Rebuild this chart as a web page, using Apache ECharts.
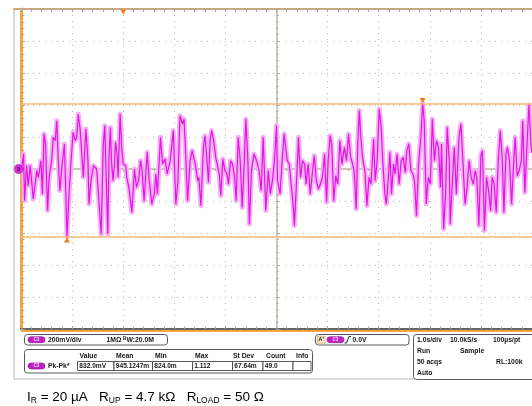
<!DOCTYPE html>
<html>
<head>
<meta charset="UTF-8">
<title>C3 Pk-Pk noise capture</title>
<script src="https://cdn.jsdelivr.net/npm/echarts@6.0.0/dist/echarts.min.js"></script>
<style>
  html, body { margin: 0; padding: 0; background: #fff; }
  #main { width: 532px; height: 406px; }
</style>
</head>
<body>
<div id="main"></div>
<script>
// C3 trace: [time s (1.0 s/div), level mV (200 mV/div)]
const traceSeg1 = [[0.01,0],[0.05,94],[0.07,-198],[0.11,21],[0.14,-104],[0.18,21],[0.24,-187],[0.31,-10],[0.34,-52],[0.39,52],[0.42,-156],[0.45,219],[0.48,156],[0.52,-260],[0.55,-52],[0.60,52],[0.63,198],[0.67,177],[0.70,302],[0.73,52],[0.76,-135],[0.80,10],[0.85,156],[0.87,-73],[0.90,-422],[0.94,-156],[0.98,52],[1.02,229],[1.06,177],[1.09,198],[1.12,344],[1.16,240],[1.19,94],[1.22,-52],[1.27,250],[1.31,52],[1.33,-219],[1.37,-73],[1.42,21],[1.45,31],[1.48,0],[1.51,10],[1.57,-406],[1.61,150]];
const traceSeg2 = [[1.64,271],[1.68,-198],[1.70,-406],[1.72,52],[1.75,260],[1.77,52],[1.80,-73],[1.83,31],[1.85,167],[1.88,94],[1.90,-52],[1.94,344],[1.97,135],[2.00,31],[2.05,21],[2.07,-52],[2.11,-115],[2.17,-271],[2.22,0],[2.26,-115],[2.30,-73],[2.34,52],[2.37,-10],[2.41,-198],[2.47,104],[2.51,-73],[2.56,-219],[2.61,-156],[2.64,-31],[2.67,-156],[2.73,198],[2.77,31],[2.82,62],[2.86,-31],[2.92,52],[2.98,240],[3.03,-219],[3.07,-83],[3.11,333],[3.16,281],[3.19,312],[3.22,115],[3.26,-198],[3.31,52],[3.35,115],[3.41,31]];
const traceSeg3 = [[3.46,-73],[3.48,-52],[3.52,-229],[3.57,135],[3.60,208],[3.64,52],[3.67,-83],[3.70,177],[3.73,240],[3.77,177],[3.81,73],[3.84,73],[3.88,-31],[3.91,-167],[3.95,62],[3.99,-10],[4.03,-31],[4.06,-94],[4.10,52],[4.14,31],[4.18,-52],[4.21,-198],[4.25,198],[4.29,52],[4.33,-240],[4.37,52],[4.40,312],[4.44,52],[4.47,-344],[4.51,-10],[4.56,94],[4.61,52],[4.66,-10],[4.70,-135],[4.74,198],[4.79,-260],[4.84,-10],[4.88,-156],[4.92,-73],[4.96,52],[5.00,271],[5.02,-73],[5.07,-156],[5.11,52],[5.15,219]];
const traceSeg4 = [[5.21,52],[5.25,31],[5.28,-73],[5.33,-240],[5.35,-354],[5.39,-94],[5.43,198],[5.47,-52],[5.51,52],[5.55,31],[5.58,-94],[5.62,31],[5.66,-156],[5.70,-31],[5.74,83],[5.78,-73],[5.82,-125],[5.86,-94],[5.90,-52],[5.94,94],[5.98,-208],[6.01,52],[6.05,208],[6.08,156],[6.12,-198],[6.16,-42],[6.20,-94],[6.24,177],[6.28,31],[6.33,135],[6.37,52],[6.41,219],[6.45,73],[6.48,42],[6.52,-10],[6.56,-250],[6.59,156],[6.62,365],[6.65,198],[6.69,52],[6.73,-10],[6.77,-229],[6.81,-52],[6.85,-94],[6.90,187],[6.93,-73]];
const traceSeg5 = [[6.97,52],[7.01,375],[7.05,260],[7.08,52],[7.12,-156],[7.15,-219],[7.19,-52],[7.22,104],[7.25,-156],[7.29,31],[7.32,-31],[7.36,94],[7.40,-94],[7.44,52],[7.48,73],[7.52,-21],[7.55,115],[7.59,156],[7.63,-10],[7.67,-31],[7.70,-73],[7.74,-292],[7.78,31],[7.83,219],[7.86,410],[7.89,302],[7.93,-219],[7.97,-52],[8.01,-94],[8.05,312],[8.09,52],[8.13,177],[8.17,135],[8.21,-115],[8.23,156],[8.27,-375],[8.31,-156],[8.34,260],[8.38,52],[8.40,-344],[8.44,-94],[8.48,135],[8.52,-156]];
const traceSeg6 = [[8.57,198],[8.61,281],[8.65,31],[8.69,-219],[8.73,-115],[8.77,52],[8.81,-52],[8.85,-94],[8.89,-10],[8.92,-52],[8.96,-354],[9.00,83],[9.03,115],[9.07,-385],[9.11,-52],[9.15,-135],[9.19,-260],[9.22,-52],[9.26,-94],[9.30,-271],[9.34,52],[9.38,240],[9.42,52],[9.45,-271],[9.49,94],[9.52,135],[9.56,52],[9.60,-219],[9.64,31],[9.67,198],[9.71,-42],[9.75,-10],[9.79,52],[9.82,302],[9.86,-146],[9.90,135],[9.94,400],[9.98,156],[10.0,100]];

// cursors on the max / min of the record, trigger position marker
const cursorLevels = [410, -422];
const cursorMarks = [[7.86, 410], [0.90, -422]];
const triggerTime = 2.0;

// readouts
const chanLine = ['200mV/div', '1MΩ', 'W:20.0M'];
const measHead = ['Value', 'Mean', 'Min', 'Max', 'St Dev', 'Count', 'Info'];
const measVal = ['832.0mV', '945.1247m', '824.0m', '1.112', '67.64m', '49.0', ''];
const trigLevel = '0.0V';
const acqRows = [['1.0s/div', '10.0kS/s', '100µs/pt'], ['Run', 'Sample'], ['50 acqs', 'RL:100k'], ['Auto']];

const trace = [].concat(traceSeg1, traceSeg2, traceSeg3, traceSeg4, traceSeg5, traceSeg6);

const FONT = '"Liberation Sans", Arial, sans-serif';
const tri = '#f07a18';

function txt(x, y, s, size, extra) {
  return Object.assign({
    type: 'text', x: x, y: y, z: 20,
    style: { text: s, font: 'bold ' + size + 'px ' + FONT, fill: '#161616',
             textAlign: 'left', textVerticalAlign: 'middle' }
  }, extra || {});
}
function box(x, y, w, h, r, stroke, fill) {
  return { type: 'rect', z: 15, shape: { x: x, y: y, width: w, height: h, r: r },
           style: { fill: fill || '#fff', stroke: stroke || '#5a5a5a', lineWidth: 1 } };
}
function pill(x, y) {
  return [
    { type: 'rect', z: 18, shape: { x: x, y: y, width: 17, height: 6, r: 3 },
      style: { fill: '#c21ec8', stroke: '#8e108e', lineWidth: 0.6 } },
    { type: 'text', z: 19, x: x + 8.5, y: y + 3,
      style: { text: 'C3', font: 'bold 4.5px ' + FONT, fill: '#f8e0f8', textAlign: 'center', textVerticalAlign: 'middle' } }
  ];
}
function line(x1, y1, x2, y2, color, w) {
  return { type: 'line', z: 16, shape: { x1: x1, y1: y1, x2: x2, y2: y2 },
           style: { stroke: color, lineWidth: w || 1 } };
}

let graphics = [];
// screen frame
graphics.push(line(14, 8.5, 14, 379, '#b4b4b4', 1));
graphics.push(line(13.5, 9, 22, 9, '#c8a882', 2));
graphics.push(line(14, 379, 413, 379, '#b4b4b4', 1));
graphics.push(line(21, 331, 532, 331, '#f5a540', 2));

// channel box
graphics.push(box(24.5, 334.5, 143, 10.5, 3));
graphics = graphics.concat(pill(28, 336.7));
graphics.push(txt(48, 339.8, chanLine[0], 6.8));
graphics.push(txt(106.5, 339.8, chanLine[1], 6.8));
graphics.push(txt(123, 338.3, 'B', 4.5));
graphics.push(txt(126.5, 339.8, chanLine[2], 6.8));

// measurement box
graphics.push(box(24.5, 349.5, 288, 23.5, 3));
const headX = [79.5, 116, 155, 195, 233, 266, 296];
measHead.forEach(function (h, i) { graphics.push(txt(headX[i], 356, h, 6.8)); });
graphics = graphics.concat(pill(28, 363));
graphics.push(txt(48, 366, 'Pk-Pk*', 6.8));
const cellEdges = [77.5, 114, 152.5, 192.5, 232.5, 263, 293, 311];
for (let i = 0; i < cellEdges.length - 1; i++) {
  graphics.push({ type: 'rect', z: 16,
    shape: { x: cellEdges[i], y: 361.5, width: cellEdges[i + 1] - cellEdges[i], height: 9 },
    style: { fill: '#fff', stroke: '#333', lineWidth: 0.8 } });
  if (measVal[i]) graphics.push(txt(cellEdges[i] + 1.8, 366.2, measVal[i], 6.6));
}

// trigger box
graphics.push(box(315.5, 334.5, 93.5, 10.5, 3));
graphics.push({ type: 'rect', z: 17, shape: { x: 317.5, y: 336.2, width: 7.5, height: 7 },
  style: { fill: '#fbe9c8', stroke: '#c9a060', lineWidth: 0.7 } });
graphics.push(txt(318.5, 339.8, "A'", 5.5));
graphics = graphics.concat(pill(327, 336.7));
graphics.push({ type: 'polyline', z: 18, shape: { points: [[344.5, 343], [346.5, 343], [349, 336.5], [351, 336.5]] },
  style: { stroke: '#222', lineWidth: 1, fill: null } });
graphics.push(txt(352.5, 339.8, trigLevel, 6.8));

// acquisition box
graphics.push(box(413.5, 334.5, 130, 45, 3));
const acqX = [[417, 450, 493], [417, 460], [417, 496], [417]];
const acqY = [340, 351, 362, 373];
acqRows.forEach(function (row, r) {
  row.forEach(function (s, c) { graphics.push(txt(acqX[r][c], acqY[r], s, 6.8)); });
});

// test condition caption
graphics.push({ type: 'text', z: 20, x: 27, y: 397,
  style: {
    text: '{m|I}{s|R}{m| = 20 µA   R}{s|UP}{m| = 4.7 kΩ   R}{s|LOAD}{m| = 50 Ω}',
    textVerticalAlign: 'middle', textAlign: 'left',
    rich: {
      m: { fontFamily: FONT, fontSize: 13.5, color: '#1f2d55', lineHeight: 16, verticalAlign: 'middle' },
      s: { fontFamily: FONT, fontSize: 8.5, color: '#1f2d55', lineHeight: 6, verticalAlign: 'bottom' }
    }
  } });

const dotted = { color: '#b9b9b9', width: 1, type: [1, 5] };
const tickGray = { color: '#a8a8a8', width: 1 };
const centerGray = '#bdb8ab';

const option = {
  animation: false,
  backgroundColor: '#fff',
  grid: { left: 21, right: 0, top: 9, bottom: 77, show: false },
  xAxis: [
    { type: 'value', min: 0, max: 10, interval: 1, position: 'bottom',
      axisLine: { show: true, onZero: false, lineStyle: { color: '#666', width: 2 } },
      axisTick: { show: true, inside: true, length: 3, lineStyle: tickGray },
      minorTick: { show: true, splitNumber: 5, length: 2.5, lineStyle: tickGray },
      axisLabel: { show: false },
      splitLine: { show: true, lineStyle: dotted } },
    { type: 'value', min: -5, max: 5, interval: 1, position: 'top',
      axisLine: { show: true, onZero: true, onZeroAxisIndex: 0, lineStyle: { color: '#cbc7bb', width: 2 } },
      axisTick: { show: true, inside: true, length: 3, lineStyle: { color: '#aaa598' } },
      minorTick: { show: true, splitNumber: 5, length: 2, lineStyle: { color: '#b3aea2' } },
      axisLabel: { show: false }, splitLine: { show: false } },
    { type: 'value', min: 0, max: 10, interval: 1, position: 'top',
      axisLine: { show: true, onZero: false, lineStyle: { color: '#c8a882', width: 2 } },
      axisTick: { show: true, inside: true, length: 3, lineStyle: tickGray },
      minorTick: { show: true, splitNumber: 5, length: 3, lineStyle: tickGray },
      axisLabel: { show: false }, splitLine: { show: false } }
  ],
  yAxis: [
    { type: 'value', min: -1000, max: 1000, interval: 200, position: 'left',
      axisLine: { show: true, onZero: false, lineStyle: { color: '#f6a63a', width: 3 } },
      axisTick: { show: true, inside: true, length: 4, lineStyle: tickGray },
      minorTick: { show: true, splitNumber: 5, length: 3.5, lineStyle: tickGray },
      axisLabel: { show: false },
      splitLine: { show: true, lineStyle: dotted } },
    { type: 'value', min: -1000, max: 1000, interval: 200, position: 'right',
      axisLine: { show: true, onZero: true, onZeroAxisIndex: 1, lineStyle: { color: centerGray, width: 1.5 } },
      axisTick: { show: true, inside: false, length: 3, lineStyle: { color: '#aca699' } },
      minorTick: { show: true, splitNumber: 5, length: 2, lineStyle: { color: '#aca699' } },
      axisLabel: { show: false }, splitLine: { show: false } }
  ],
  series: [
    { type: 'line', name: 'C3 band', xAxisIndex: 0, yAxisIndex: 0, data: trace,
      symbol: 'none', silent: true, z: 3,
      lineStyle: { color: '#f4b0f4', width: 5, join: 'round' },
      markLine: { silent: true, symbol: 'none', label: { show: false },
        lineStyle: { color: '#f9b872', width: 1.5, type: 'solid' },
        data: cursorLevels.map(function (v) { return { yAxis: v }; }) } },
    { type: 'line', name: 'C3', xAxisIndex: 0, yAxisIndex: 0, data: trace,
      symbol: 'none', silent: true, z: 4,
      lineStyle: { color: '#e414e4', width: 1.2 },
      markPoint: { silent: true, label: { show: false },
        data: [
          { coord: [triggerTime, 1000], symbol: 'triangle', symbolRotate: 180, symbolSize: [6, 5], symbolOffset: [0, 3], itemStyle: { color: tri } },
          { coord: cursorMarks[0], symbol: 'triangle', symbolRotate: 180, symbolSize: [6, 5], symbolOffset: [0, -3], itemStyle: { color: tri } },
          { coord: cursorMarks[1], symbol: 'triangle', symbolSize: [6, 5], symbolOffset: [0, 3.5], itemStyle: { color: tri } },
          { coord: [0, 0], symbol: 'circle', symbolSize: 9, symbolOffset: [-2.5, 0],
            itemStyle: { color: '#e02ae0', borderColor: '#a010a0', borderWidth: 0.6 },
            label: { show: true, formatter: '3', position: 'inside', fontSize: 6, fontWeight: 'bold', color: '#3a003a' } }
        ] } }
  ],
  graphic: graphics
};

const chart = echarts.init(document.getElementById('main'));
chart.setOption(option);
</script>
</body>
</html>
